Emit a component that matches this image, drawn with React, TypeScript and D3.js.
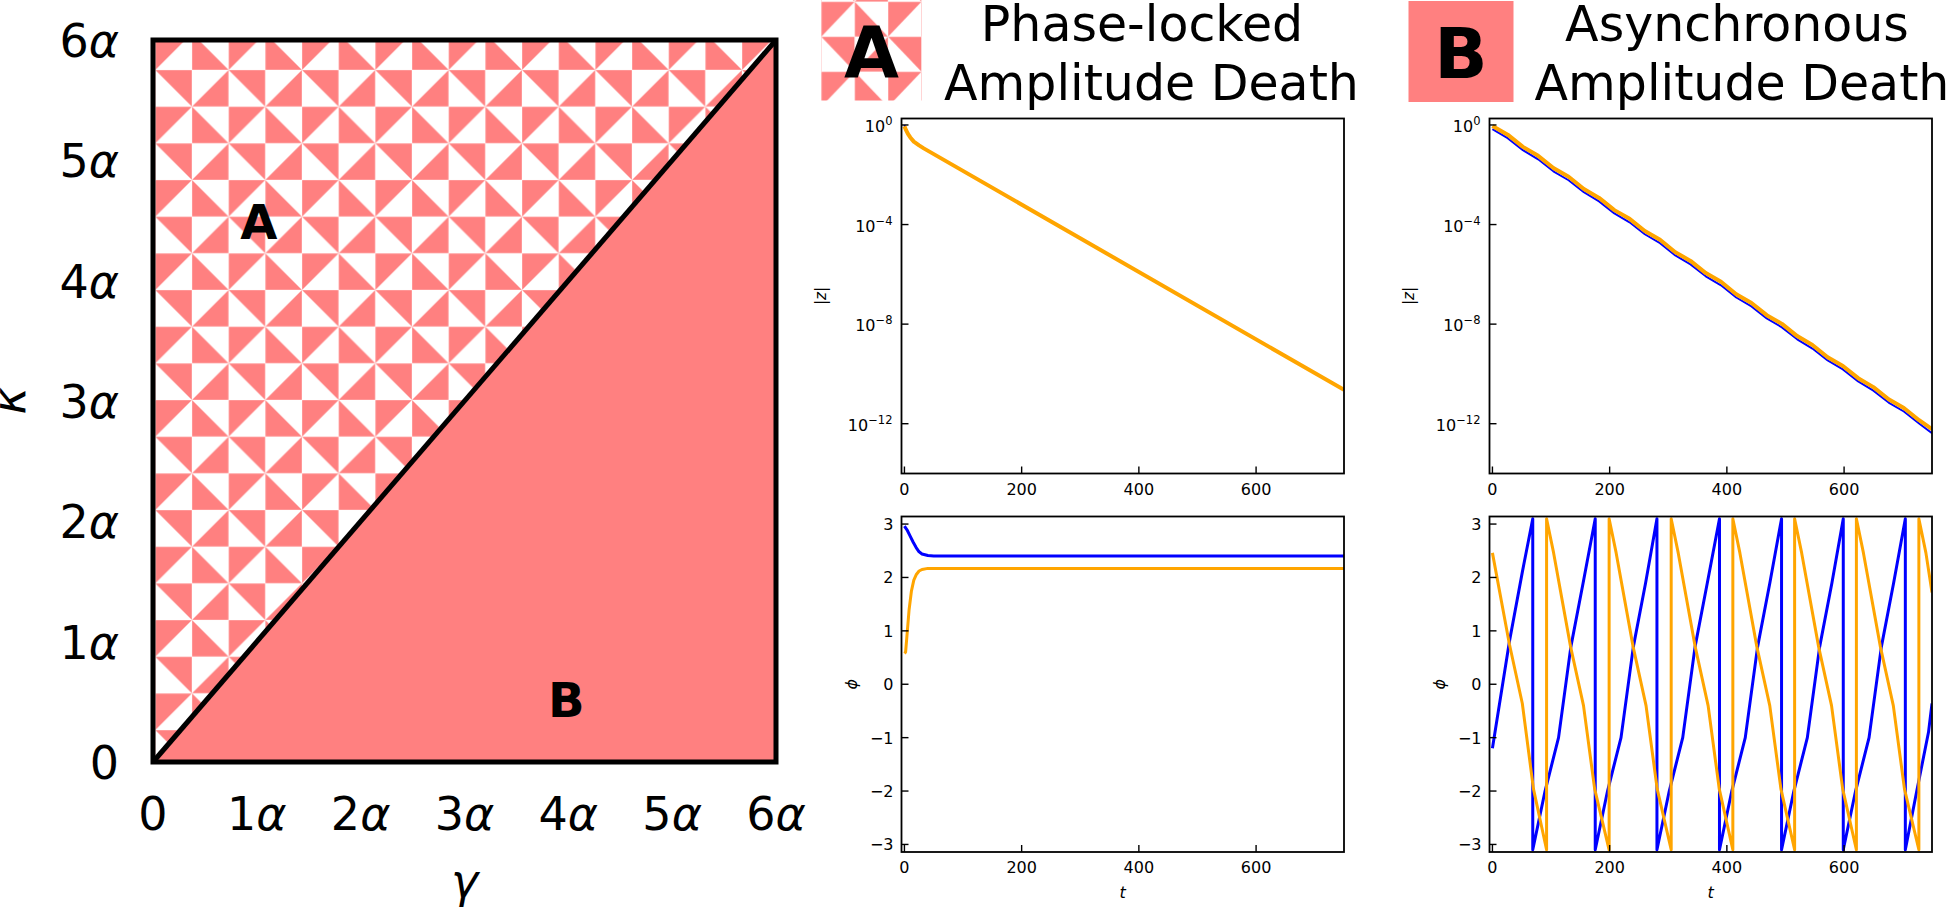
import React from 'react';
import * as d3 from 'd3';

const PINK = '#ff8080';
const BLUE = '#0000ff';
const ORANGE = '#ffa500';
const FONT = 'DejaVu Sans, sans-serif';

// left panel: regions in the (gamma, kappa) plane, in units of alpha
const regionTicks = [0, 1, 2, 3, 4, 5, 6];

// panel A, |z| (log10) for both oscillators
const tA_z = [0, 3, 6, 10, 16, 25, 33, 750];
const zA_orange = [-0.05, -0.22, -0.36, -0.5, -0.67, -0.82, -0.94, -10.64];
const zA_blue = [0, -0.2, -0.35, -0.5, -0.67, -0.82, -0.94, -10.64];

// panel A, phases
const tA_phiBlue = [0, 5, 10, 15, 20, 25, 30, 40, 50, 750];
const phiA_blue = [2.96, 2.88, 2.77, 2.66, 2.56, 2.48, 2.44, 2.41, 2.4, 2.4];
const tA_phiOrange = [0, 2, 5, 8, 12, 16, 20, 25, 30, 40, 750];
const phiA_orange = [0.58, 0.6, 1.0, 1.4, 1.75, 1.95, 2.05, 2.12, 2.15, 2.17, 2.17];

// panel B, |z| (log10)
const tB_z = [0, 26, 52, 78, 104, 130, 156, 182, 208, 234, 260, 286, 312, 338, 364, 390, 416, 442, 468, 494, 520, 546, 572, 598, 624, 650, 676, 702, 728, 750];
const zB_orange = [-0.04, -0.39, -0.88, -1.24, -1.73, -2.08, -2.57, -2.93, -3.42, -3.77, -4.26, -4.61, -5.11, -5.46, -5.95, -6.3, -6.8, -7.15, -7.64, -7.99, -8.48, -8.84, -9.33, -9.68, -10.17, -10.53, -11.02, -11.37, -11.86, -12.22];
const zB_blue = [-0.17, -0.53, -1.01, -1.38, -1.86, -2.22, -2.7, -3.07, -3.55, -3.91, -4.39, -4.75, -5.24, -5.6, -6.08, -6.44, -6.93, -7.29, -7.77, -8.13, -8.61, -8.98, -9.46, -9.82, -10.3, -10.67, -11.15, -11.51, -11.99, -12.38];

// panel B, phases (wrapped between -pi and pi)
const tB_phiBlue = [0, 29, 51, 68.8, 68.8, 89.8, 112.8, 133.8, 154.8, 175.4, 175.4, 196.4, 219.4, 240.4, 261.4, 280.7, 280.7, 301.7, 324.7, 345.7, 366.7, 387.4, 387.4, 408.4, 431.4, 452.4, 473.4, 493.3, 493.3, 514.3, 537.3, 558.3, 579.3, 598.6, 598.6, 619.6, 642.6, 663.6, 684.6, 704.5, 704.5, 724, 744, 750];
const phiB_blue = [-1.2, 0.8, 2.1, 3.1, -3.1, -2.0, -1.0, 0.7, 1.9, 3.1, -3.1, -2.0, -1.0, 0.7, 1.9, 3.1, -3.1, -2.0, -1.0, 0.7, 1.9, 3.1, -3.1, -2.0, -1.0, 0.7, 1.9, 3.1, -3.1, -2.0, -1.0, 0.7, 1.9, 3.1, -3.1, -2.0, -1.0, 0.7, 1.9, 3.1, -3.1, -2.0, -0.9, -0.36];
const tB_phiOrange = [0, 29, 51, 70, 92.4, 92.4, 104.4, 133.4, 155.4, 174.4, 199.1, 199.1, 211.1, 240.1, 262.1, 281.1, 305, 305, 317, 346, 368, 387, 410.2, 410.2, 422.2, 451.2, 473.2, 492.2, 515.6, 515.6, 527.6, 556.6, 578.6, 597.6, 621, 621, 633, 662, 684, 703, 727.6, 727.6, 739.6, 750];
const phiB_orange = [2.46, 0.75, -0.36, -1.96, -3.1, 3.1, 2.46, 0.7, -0.4, -1.96, -3.1, 3.1, 2.46, 0.7, -0.4, -1.96, -3.1, 3.1, 2.46, 0.7, -0.4, -1.96, -3.1, 3.1, 2.46, 0.7, -0.4, -1.96, -3.1, 3.1, 2.46, 0.7, -0.4, -1.96, -3.1, 3.1, 2.46, 0.7, -0.4, -1.96, -3.1, 3.1, 2.46, 1.72];

const tTicks = [0, 200, 400, 600];
const logTicks = [0, -4, -8, -12];
const phiTicks = [3, 2, 1, 0, -1, -2, -3];

const zip = (xs: number[], ys: number[]) => xs.map((x, i) => [x, ys[i]] as [number, number]);
const minus = (v: number) => (v < 0 ? '\u2212' + Math.abs(v) : String(v));

type Series = { t: number[]; v: number[]; color: string; width: number };

function TimePanel({ id, left, right, top, bottom, log, series, showT }: {
  id: string; left: number; right: number; top: number; bottom: number;
  log: boolean; series: Series[]; showT: boolean;
}) {
  const x = d3.scaleLinear().domain([-5, 750]).range([left, right]);
  const yLog = d3.scaleLog().domain([1e-14, Math.pow(10, 0.26)]).range([bottom, top]);
  const yPhi = d3.scaleLinear().domain([-Math.PI, Math.PI]).range([bottom, top]);
  const yv = (v: number) => (log ? yLog(Math.pow(10, v)) : yPhi(v));
  const line = d3.line<[number, number]>().x(d => x(d[0])).y(d => yv(d[1]));
  const cy = (top + bottom) / 2;
  return (
    <g fontFamily={FONT}>
      <clipPath id={id}>
        <rect x={left} y={top} width={right - left} height={bottom - top} />
      </clipPath>
      <g clipPath={`url(#${id})`}>
        {series.map((s, i) => (
          <path key={i} d={line(zip(s.t, s.v)) || ''} fill="none" stroke={s.color}
            strokeWidth={s.width} strokeLinejoin="round" />
        ))}
      </g>
      {tTicks.map(t => (
        <g key={t}>
          <line x1={x(t)} x2={x(t)} y1={bottom} y2={bottom - 7} stroke="#000" strokeWidth={1.4} />
          <text x={x(t)} y={bottom + 21} fontSize={16} textAnchor="middle">{t}</text>
        </g>
      ))}
      {log
        ? logTicks.map(v => (
          <g key={v}>
            <line x1={left} x2={left + 7} y1={yv(v)} y2={yv(v)} stroke="#000" strokeWidth={1.4} />
            <text x={left - 9} y={yv(v) + 7} fontSize={16} textAnchor="end">
              10<tspan dy={-7} fontSize={11.5}>{minus(v)}</tspan>
            </text>
          </g>
        ))
        : phiTicks.map(v => (
          <g key={v}>
            <line x1={left} x2={left + 7} y1={yv(v)} y2={yv(v)} stroke="#000" strokeWidth={1.4} />
            <text x={left - 8} y={yv(v) + 6} fontSize={16} textAnchor="end">{minus(v)}</text>
          </g>
        ))}
      <rect x={left} y={top} width={right - left} height={bottom - top} fill="none"
        stroke="#000" strokeWidth={1.8} />
      {log ? (
        <text transform={`translate(${left - 81},${cy}) rotate(-90)`} fontSize={15}
          textAnchor="middle" dominantBaseline="central">
          |<tspan fontStyle="italic">z</tspan>|
        </text>
      ) : (
        <text transform={`translate(${left - 50},${cy}) rotate(-90)`} fontSize={16}
          fontStyle="italic" textAnchor="middle" dominantBaseline="central">ϕ</text>
      )}
      {showT && (
        <text x={(left + right) / 2} y={898} fontSize={16} fontStyle="italic"
          textAnchor="middle">t</text>
      )}
    </g>
  );
}

function Pinwheel({ id, x, y, w, h }: { id: string; x: number; y: number; w: number; h: number }) {
  const seam = { stroke: '#fff', strokeOpacity: 0.35, strokeWidth: 1 };
  return (
    <pattern id={id} patternUnits="userSpaceOnUse" x={x} y={y} width={2 * w} height={2 * h}>
      <rect width={2 * w} height={2 * h} fill="#fff" />
      <polygon points={`0,0 ${w},0 0,${h}`} fill={PINK} />
      <polygon points={`${w},0 ${w},${h} ${2 * w},${h}`} fill={PINK} />
      <polygon points={`0,${h} ${w},${h} ${w},${2 * h}`} fill={PINK} />
      <polygon points={`${2 * w},${h} ${2 * w},${2 * h} ${w},${2 * h}`} fill={PINK} />
      {[0, w, 2 * w].map(p => <line key={'v' + p} x1={p} x2={p} y1={0} y2={2 * h} {...seam} />)}
      {[0, h, 2 * h].map(p => <line key={'h' + p} y1={p} y2={p} x1={0} x2={2 * w} {...seam} />)}
    </pattern>
  );
}

export default function App() {
  const xL = d3.scaleLinear().domain([0, 6]).range([153, 776]);
  const yL = d3.scaleLinear().domain([0, 6]).range([762, 40]);

  const upper = [[0, 0], [0, 6], [6, 6]].map(([g, k]) => `${xL(g)},${yL(k)}`).join(' ');
  const lower = [[0, 0], [6, 0], [6, 6]].map(([g, k]) => `${xL(g)},${yL(k)}`).join(' ');

  const alphaLabel = (n: number) =>
    n === 0 ? <>0</> : <>{n}<tspan fontStyle="italic">α</tspan></>;

  return (
    <div style={{ position: 'absolute', left: 0, top: 0 }}>
      <svg width={1946} height={908} style={{ display: 'block', background: '#fff' }}>
        <defs>
          <Pinwheel id="pinwheel" x={155.3} y={33.3} w={36.67} h={36.67} />
          <Pinwheel id="pinwheelIcon" x={821.3} y={1.7} w={33.4} h={35} />
        </defs>

        {/* left panel */}
        <g fontFamily={FONT}>
          <polygon points={upper} fill="url(#pinwheel)" />
          <polygon points={lower} fill={PINK} />
          <line x1={xL(0)} y1={yL(0)} x2={xL(6)} y2={yL(6)} stroke="#000" strokeWidth={5} />
          <rect x={xL(0)} y={yL(6)} width={xL(6) - xL(0)} height={yL(0) - yL(6)}
            fill="none" stroke="#000" strokeWidth={5} />
          <text x={xL(1.02)} y={yL(4.35)} fontSize={48} fontWeight="bold" textAnchor="middle">A</text>
          <text x={xL(3.98)} y={yL(0.37)} fontSize={48} fontWeight="bold" textAnchor="middle">B</text>
          {regionTicks.map(v => (
            <g key={v} fontSize={46}>
              <text x={119} y={yL(v) + 17} textAnchor="end">{alphaLabel(v)}</text>
              <text x={xL(v)} y={830} textAnchor="middle">{alphaLabel(v)}</text>
            </g>
          ))}
          <text x={xL(3)} y={897} fontSize={46} fontStyle="italic" textAnchor="middle">γ</text>
          <text transform={`translate(25,${(yL(0) + yL(6)) / 2}) rotate(-90)`} fontSize={46}
            fontStyle="italic" textAnchor="middle">κ</text>
        </g>

        {/* headers */}
        <g fontFamily={FONT}>
          <rect x={821} y={0} width={101} height={100.5} fill="url(#pinwheelIcon)" />
          <text x={871.5} y={77} fontSize={71} fontWeight="bold" textAnchor="middle">A</text>
          <text x={1142} y={41} fontSize={49} textAnchor="middle">Phase-locked</text>
          <text x={1151.5} y={100} fontSize={49} textAnchor="middle">Amplitude Death</text>

          <rect x={1408.5} y={1} width={105} height={101} fill={PINK} />
          <text x={1461} y={78} fontSize={70} fontWeight="bold" textAnchor="middle">B</text>
          <text x={1737} y={41} fontSize={49} textAnchor="middle">Asynchronous</text>
          <text x={1742} y={100} fontSize={49} textAnchor="middle">Amplitude Death</text>
        </g>

        <TimePanel id="clipAz" left={901.5} right={1344} top={118.5} bottom={473.5} log
          showT={false}
          series={[
            { t: tA_z, v: zA_blue, color: BLUE, width: 2 },
            { t: tA_z, v: zA_orange, color: ORANGE, width: 4 },
          ]} />
        <TimePanel id="clipAphi" left={901.5} right={1344} top={516.5} bottom={852} log={false}
          showT
          series={[
            { t: tA_phiBlue, v: phiA_blue, color: BLUE, width: 3 },
            { t: tA_phiOrange, v: phiA_orange, color: ORANGE, width: 3 },
          ]} />
        <TimePanel id="clipBz" left={1489.5} right={1932} top={118.5} bottom={473.5} log
          showT={false}
          series={[
            { t: tB_z, v: zB_blue, color: BLUE, width: 2 },
            { t: tB_z, v: zB_orange, color: ORANGE, width: 4 },
          ]} />
        <TimePanel id="clipBphi" left={1489.5} right={1932} top={516.5} bottom={852} log={false}
          showT
          series={[
            { t: tB_phiBlue, v: phiB_blue, color: BLUE, width: 3 },
            { t: tB_phiOrange, v: phiB_orange, color: ORANGE, width: 3 },
          ]} />
      </svg>
    </div>
  );
}
